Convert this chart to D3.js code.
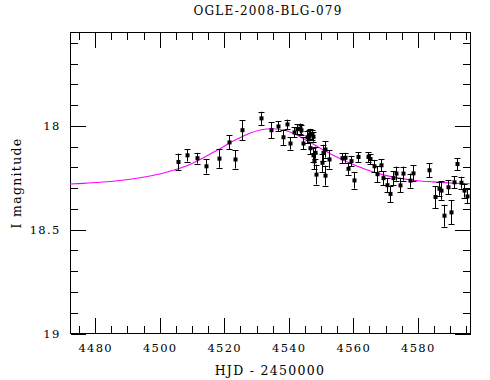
<!DOCTYPE html>
<html>
<head>
<meta charset="utf-8">
<script src="https://cdn.jsdelivr.net/npm/d3@7"></script>
<style>
  html, body { margin: 0; padding: 0; background: #fff; }
  svg { display: block; }
  text { font-family: "DejaVu Serif", "Liberation Serif", serif; fill: #000; }
</style>
</head>
<body>
<svg id="chart" width="490" height="380"></svg>
<script>
const title = "OGLE-2008-BLG-079";
const xLabel = "HJD - 2450000";
const yLabel = "I magnitude";

const hjd = [4505.7,4508.6,4511.6,4514.6,4518.6,4521.7,4523.5,4525.6,4531.7,4534.6,
  4536.7,4538.5,4539.7,4540.6,4541.7,4542.6,4543.5,4543.8,4544.7,4545.9,
  4546.3,4546.8,4547.4,4547.6,4546.6,4547.6,4548.4,4548.0,4548.6,4550.5,
  4550.7,4551.5,4551.5,4552.5,4556.7,4557.6,4558.5,4559.5,4560.5,4561.6,
  4564.6,4565.4,4566.6,4567.6,4568.6,4569.5,4570.6,4571.5,4572.6,4573.4,
  4574.5,4575.6,4577.8,4578.7,4583.6,4585.5,4586.7,4587.5,4588.4,4589.6,
  4590.4,4591.5,4592.4,4593.4,4594.5,4595.5];
const mag = [18.176,18.144,18.158,18.197,18.160,18.082,18.164,18.023,17.966,18.023,
  18.005,18.057,17.995,18.087,18.034,18.018,18.015,18.024,18.087,18.057,
  18.047,18.040,18.044,18.055,18.110,18.144,18.132,18.173,18.237,18.180,
  18.132,18.116,18.242,18.164,18.158,18.156,18.209,18.172,18.265,18.152,
  18.152,18.162,18.197,18.235,18.192,18.254,18.288,18.330,18.254,18.232,
  18.289,18.232,18.266,18.231,18.216,18.345,18.305,18.314,18.435,18.298,
  18.419,18.274,18.186,18.276,18.314,18.342];
const magErr = [0.040,0.030,0.026,0.035,0.044,0.034,0.044,0.048,0.032,0.039,
  0.024,0.037,0.023,0.030,0.024,0.024,0.024,0.024,0.029,0.029,
  0.024,0.024,0.024,0.024,0.029,0.034,0.029,0.039,0.048,0.044,
  0.039,0.039,0.048,0.044,0.024,0.024,0.029,0.024,0.039,0.024,
  0.024,0.024,0.029,0.039,0.029,0.034,0.034,0.039,0.034,0.034,
  0.034,0.034,0.034,0.039,0.034,0.053,0.034,0.044,0.053,0.034,
  0.058,0.029,0.029,0.029,0.034,0.034];

const modelHjd = [4472.3,4476.5,4481.6,4487.8,4494.0,4500.2,4504.8,4509.5,4514.1,4518.7,
  4523.4,4528.0,4531.6,4535.2,4539.4,4543.5,4548.6,4553.8,4558.9,4564.1,
  4569.2,4574.4,4579.5,4584.7,4589.8,4596.3];
const modelMag = [18.282,18.279,18.274,18.265,18.252,18.234,18.214,18.188,18.153,18.113,
  18.072,18.038,18.021,18.016,18.026,18.053,18.098,18.142,18.180,18.212,
  18.237,18.254,18.265,18.272,18.277,18.281];

const xMajorTicks = [4480,4500,4520,4540,4560,4580];
const xMinorTicks = [4475,4485,4490,4495,4505,4510,4515,4525,4530,4535,4545,4550,4555,4565,4570,4575,4585,4590,4595];
const yMajorTicks = [18,18.5,19];
const yMinorTicks = [17.6,17.7,17.8,17.9,18.1,18.2,18.3,18.4,18.6,18.7,18.8,18.9];

const L = 70, R = 470, T = 32, B = 333;
const svg = d3.select("#chart");
const x = d3.scaleLinear().domain([4472.34, 4596.34]).range([L, R]);
const y = d3.scaleLinear().domain([17.55, 19]).range([T, B]);

const majLen = 15.5, minLen = 7.5;

svg.append("rect").attr("x", L + 0.5).attr("y", T + 0.5)
  .attr("width", R - L).attr("height", B - T)
  .attr("fill", "none").attr("stroke", "#000").attr("stroke-width", 1);

function styleAxis(g) {
  g.select(".domain").remove();
  g.selectAll("line").attr("stroke", "#000").attr("stroke-width", 1)
    .attr("shape-rendering", "crispEdges");
  g.selectAll("text").attr("font-size", "11.5px").attr("letter-spacing", "1.3px")
    .attr("font-family", '"DejaVu Serif", serif');
}

svg.append("g").attr("transform", `translate(0.5,${B + 0.5})`)
  .call(d3.axisBottom(x).tickValues(xMajorTicks).tickSizeInner(-majLen).tickSizeOuter(0)
    .tickPadding(10).tickFormat(d3.format("d")))
  .call(styleAxis);
svg.append("g").attr("transform", `translate(0.5,${B + 0.5})`)
  .call(d3.axisBottom(x).tickValues(xMinorTicks).tickSizeInner(-minLen).tickSizeOuter(0).tickFormat(""))
  .call(styleAxis);
svg.append("g").attr("transform", `translate(0.5,${T + 0.5})`)
  .call(d3.axisTop(x).tickValues(xMajorTicks).tickSizeInner(-majLen).tickSizeOuter(0).tickFormat(""))
  .call(styleAxis);
svg.append("g").attr("transform", `translate(0.5,${T + 0.5})`)
  .call(d3.axisTop(x).tickValues(xMinorTicks).tickSizeInner(-minLen).tickSizeOuter(0).tickFormat(""))
  .call(styleAxis);
svg.append("g").attr("transform", `translate(${L + 0.5},0.5)`)
  .call(d3.axisLeft(y).tickValues(yMajorTicks).tickSizeInner(-majLen).tickSizeOuter(0)
    .tickPadding(10).tickFormat(d => d3.format("")(d)))
  .call(styleAxis);
svg.append("g").attr("transform", `translate(${L + 0.5},0.5)`)
  .call(d3.axisLeft(y).tickValues(yMinorTicks).tickSizeInner(-minLen).tickSizeOuter(0).tickFormat(""))
  .call(styleAxis);
svg.append("g").attr("transform", `translate(${R + 0.5},0.5)`)
  .call(d3.axisRight(y).tickValues(yMajorTicks).tickSizeInner(-majLen).tickSizeOuter(0).tickFormat(""))
  .call(styleAxis);
svg.append("g").attr("transform", `translate(${R + 0.5},0.5)`)
  .call(d3.axisRight(y).tickValues(yMinorTicks).tickSizeInner(-minLen).tickSizeOuter(0).tickFormat(""))
  .call(styleAxis);

svg.append("clipPath").attr("id", "clip").append("rect")
  .attr("x", L).attr("y", T).attr("width", R - L + 1).attr("height", B - T + 1);

const plot = svg.append("g").attr("clip-path", "url(#clip)");

const model = modelHjd.map((h, i) => ({ h, m: modelMag[i] }));
plot.append("path").datum(model)
  .attr("fill", "none").attr("stroke", "#ff00ff").attr("stroke-width", 1.1)
  .attr("d", d3.line().x(d => x(d.h)).y(d => y(d.m)).curve(d3.curveCatmullRom.alpha(0.5)));

const pts = hjd.map((h, i) => ({ h, m: mag[i], e: magErr[i] }));
const cap = 3;
const gp = plot.append("g");
pts.forEach(d => {
  const cx = Math.round(x(d.h)) + 0.5;
  const y1 = y(d.m - d.e), y2 = y(d.m + d.e);
  gp.append("line").attr("x1", cx).attr("x2", cx).attr("y1", y1).attr("y2", y2)
    .attr("stroke", "#000").attr("stroke-width", 1);
  gp.append("line").attr("x1", cx - cap).attr("x2", cx + cap).attr("y1", Math.round(y1) + 0.5).attr("y2", Math.round(y1) + 0.5)
    .attr("stroke", "#000").attr("stroke-width", 1);
  gp.append("line").attr("x1", cx - cap).attr("x2", cx + cap).attr("y1", Math.round(y2) + 0.5).attr("y2", Math.round(y2) + 0.5)
    .attr("stroke", "#000").attr("stroke-width", 1);
  gp.append("rect").attr("x", cx - 2).attr("y", y(d.m) - 2).attr("width", 4).attr("height", 4)
    .attr("fill", "#000");
});

svg.append("text").attr("x", 268).attr("y", 15).attr("text-anchor", "middle")
  .attr("font-size", "12px").attr("letter-spacing", "1.2px").text(title);
svg.append("text").attr("x", 270).attr("y", 375).attr("text-anchor", "middle")
  .attr("font-size", "12.5px").attr("letter-spacing", "1.3px").text(xLabel);
svg.append("text").attr("transform", `translate(21,183) rotate(-90)`).attr("text-anchor", "middle")
  .attr("font-size", "12.5px").attr("letter-spacing", "1.3px").text(yLabel);
</script>
</body>
</html>
